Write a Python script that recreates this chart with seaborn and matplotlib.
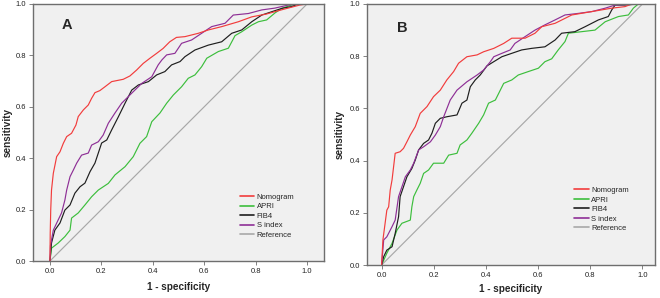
import pandas as pd
import seaborn as sns
from matplotlib import pyplot as plt
from matplotlib.lines import Line2D

# ---- panel A ----
a_nomogram_x = [0, 0.001, 0.003, 0.006, 0.013, 0.026, 0.039, 0.052, 0.065, 0.084, 0.101, 0.110, 0.130, 0.149,
                0.162, 0.175, 0.194, 0.214, 0.240, 0.285, 0.311, 0.337, 0.363, 0.389, 0.415, 0.440, 0.466,
                0.492, 0.525, 0.577, 0.616, 0.668, 0.733, 0.785, 0.842, 0.907, 0.972, 1.0]
a_nomogram_y = [0, 0.108, 0.200, 0.276, 0.341, 0.406, 0.425, 0.458, 0.484, 0.497, 0.529, 0.562, 0.588, 0.607,
                0.633, 0.655, 0.663, 0.678, 0.698, 0.707, 0.720, 0.743, 0.769, 0.789, 0.808, 0.827, 0.853,
                0.870, 0.873, 0.886, 0.899, 0.912, 0.931, 0.950, 0.961, 0.979, 0.996, 1.0]

a_apri_x = [0, 0.006, 0.032, 0.058, 0.078, 0.084, 0.110, 0.136, 0.162, 0.188, 0.227, 0.253, 0.292, 0.324,
            0.350, 0.376, 0.396, 0.428, 0.454, 0.480, 0.512, 0.538, 0.564, 0.590, 0.610, 0.655, 0.694,
            0.720, 0.746, 0.785, 0.811, 0.843, 0.875, 0.902, 0.940, 0.973, 1.0]
a_apri_y = [0, 0.050, 0.070, 0.095, 0.120, 0.167, 0.187, 0.218, 0.250, 0.276, 0.302, 0.335, 0.367, 0.406,
            0.458, 0.484, 0.542, 0.576, 0.614, 0.646, 0.678, 0.711, 0.724, 0.756, 0.789, 0.815, 0.828,
            0.877, 0.892, 0.918, 0.931, 0.938, 0.965, 0.983, 0.996, 1.0, 1.0]

a_fib4_x = [0, 0.006, 0.019, 0.039, 0.058, 0.078, 0.097, 0.117, 0.136, 0.156, 0.175, 0.188, 0.201, 0.221,
            0.240, 0.266, 0.292, 0.318, 0.344, 0.383, 0.415, 0.447, 0.473, 0.506, 0.525, 0.564, 0.616,
            0.668, 0.707, 0.746, 0.785, 0.824, 0.863, 0.902, 0.940, 0.966, 1.0]
a_fib4_y = [0, 0.070, 0.120, 0.148, 0.198, 0.218, 0.264, 0.289, 0.303, 0.348, 0.381, 0.420, 0.459, 0.471,
            0.510, 0.561, 0.614, 0.665, 0.685, 0.698, 0.724, 0.737, 0.763, 0.776, 0.795, 0.821, 0.840,
            0.853, 0.886, 0.899, 0.931, 0.957, 0.970, 0.983, 0.990, 1.0, 1.0]

a_sindex_x = [0, 0.002, 0.013, 0.032, 0.045, 0.058, 0.065, 0.078, 0.091, 0.104, 0.123, 0.149, 0.162, 0.188,
              0.207, 0.227, 0.253, 0.279, 0.318, 0.357, 0.396, 0.421, 0.435, 0.454, 0.486, 0.512, 0.551,
              0.590, 0.629, 0.681, 0.713, 0.772, 0.824, 0.875, 0.927, 0.965, 1.0]
a_sindex_y = [0, 0.060, 0.120, 0.160, 0.187, 0.237, 0.276, 0.328, 0.354, 0.381, 0.412, 0.420, 0.451, 0.464,
              0.490, 0.536, 0.576, 0.614, 0.653, 0.691, 0.717, 0.763, 0.782, 0.802, 0.808, 0.847, 0.860,
              0.886, 0.912, 0.925, 0.957, 0.963, 0.977, 0.984, 0.996, 1.0, 1.0]

# ---- panel B ----
b_nomogram_x = [0, 0.005, 0.010, 0.020, 0.027, 0.033, 0.040, 0.046, 0.052, 0.071, 0.084, 0.097, 0.110, 0.129,
                0.148, 0.174, 0.199, 0.225, 0.250, 0.276, 0.295, 0.327, 0.366, 0.391, 0.430, 0.468, 0.499,
                0.550, 0.588, 0.614, 0.665, 0.729, 0.806, 0.882, 0.933, 0.959, 1.0]
b_nomogram_y = [0, 0.096, 0.134, 0.210, 0.223, 0.287, 0.326, 0.377, 0.428, 0.434, 0.447, 0.472, 0.498, 0.530,
                0.581, 0.607, 0.645, 0.670, 0.709, 0.741, 0.773, 0.798, 0.805, 0.817, 0.830, 0.849, 0.869,
                0.869, 0.888, 0.913, 0.926, 0.958, 0.971, 0.984, 0.990, 1.0, 1.0]

b_apri_x = [0, 0.020, 0.040, 0.059, 0.078, 0.110, 0.116, 0.123, 0.135, 0.148, 0.161, 0.180, 0.199, 0.238,
            0.257, 0.289, 0.301, 0.327, 0.346, 0.372, 0.391, 0.410, 0.436, 0.455, 0.468, 0.499, 0.524,
            0.562, 0.601, 0.626, 0.652, 0.677, 0.703, 0.716, 0.767, 0.818, 0.857, 0.908, 0.946, 0.965,
            0.984, 1.0]
b_apri_y = [0, 0.045, 0.083, 0.134, 0.160, 0.172, 0.223, 0.262, 0.287, 0.313, 0.351, 0.364, 0.390, 0.390,
            0.421, 0.428, 0.460, 0.479, 0.505, 0.543, 0.575, 0.620, 0.632, 0.670, 0.696, 0.709, 0.728,
            0.741, 0.754, 0.779, 0.790, 0.824, 0.856, 0.888, 0.894, 0.900, 0.932, 0.952, 0.958, 0.984,
            1.0, 1.0]

b_fib4_x = [0, 0.008, 0.020, 0.040, 0.052, 0.065, 0.071, 0.084, 0.097, 0.116, 0.129, 0.142, 0.161, 0.180,
            0.193, 0.206, 0.225, 0.250, 0.289, 0.308, 0.327, 0.340, 0.359, 0.378, 0.404, 0.430, 0.461,
            0.499, 0.537, 0.575, 0.626, 0.665, 0.690, 0.741, 0.780, 0.831, 0.869, 0.882, 0.895, 0.933,
            0.984, 1.0]
b_fib4_y = [0, 0.032, 0.057, 0.070, 0.121, 0.185, 0.262, 0.300, 0.338, 0.370, 0.402, 0.441, 0.466, 0.479,
            0.505, 0.543, 0.562, 0.568, 0.575, 0.620, 0.632, 0.683, 0.709, 0.728, 0.763, 0.779, 0.798,
            0.811, 0.824, 0.830, 0.836, 0.862, 0.888, 0.894, 0.913, 0.939, 0.952, 0.977, 0.996, 0.996,
            1.0, 1.0]

b_sindex_x = [0, 0.008, 0.020, 0.040, 0.052, 0.065, 0.078, 0.091, 0.110, 0.123, 0.142, 0.161, 0.187, 0.206,
              0.225, 0.238, 0.263, 0.289, 0.327, 0.366, 0.391, 0.417, 0.430, 0.461, 0.493, 0.511, 0.550,
              0.588, 0.626, 0.665, 0.703, 0.754, 0.806, 0.857, 0.895, 0.984, 1.0]
b_sindex_y = [0, 0.096, 0.108, 0.147, 0.172, 0.262, 0.300, 0.338, 0.364, 0.390, 0.441, 0.453, 0.472, 0.498,
              0.530, 0.568, 0.632, 0.670, 0.702, 0.728, 0.747, 0.779, 0.798, 0.811, 0.824, 0.849, 0.875,
              0.900, 0.920, 0.939, 0.958, 0.964, 0.971, 0.984, 0.996, 1.0, 1.0]

reference_x = [0, 1]
reference_y = [0, 1]

curve_names = ["Nomogram", "APRI", "FIB4", "S index", "Reference"]
curve_colors = {
    "Nomogram": "#f23c3c",
    "APRI": "#3cbe3c",
    "FIB4": "#1e1e1e",
    "S index": "#8e2f96",
    "Reference": "#a8a8a8",
}


def make_frame(series):
    rows = []
    for name, xs, ys in series:
        for i, (x, y) in enumerate(zip(xs, ys)):
            rows.append({"curve": name, "order": i, "fpr": x, "tpr": y})
    return pd.DataFrame(rows)


df_a = make_frame([
    ("Reference", reference_x, reference_y),
    ("APRI", a_apri_x, a_apri_y),
    ("FIB4", a_fib4_x, a_fib4_y),
    ("S index", a_sindex_x, a_sindex_y),
    ("Nomogram", a_nomogram_x, a_nomogram_y),
])
df_b = make_frame([
    ("Reference", reference_x, reference_y),
    ("APRI", b_apri_x, b_apri_y),
    ("FIB4", b_fib4_x, b_fib4_y),
    ("S index", b_sindex_x, b_sindex_y),
    ("Nomogram", b_nomogram_x, b_nomogram_y),
])

sns.set_theme(style="ticks", rc={
    "axes.facecolor": "#f0f0f0",
    "axes.edgecolor": "#6e6e6e",
    "axes.linewidth": 1.0,
    "xtick.color": "#6e6e6e",
    "ytick.color": "#6e6e6e",
    "xtick.labelcolor": "#222222",
    "ytick.labelcolor": "#222222",
})
plt.rcParams["font.family"] = ["Liberation Sans", "DejaVu Sans"]

fig = plt.figure(figsize=(6.6, 2.98), dpi=100)
ax_a = fig.add_axes([33 / 660, 1 - 261 / 298, 291 / 660, 257 / 298])
ax_b = fig.add_axes([367 / 660, 1 - 265 / 298, 288 / 660, 261 / 298])

panels = [
    # ax, data, letter, xlim, letter pos, legend anchor, label coords
    (ax_a, df_a, "A", (-0.066, 1.066), (0.047, 0.918), (0.711, 0.262), (-0.069, -0.08)),
    (ax_b, df_b, "B", (-0.056, 1.048), (0.058, 0.907), (0.719, 0.300), (-0.076, -0.073)),
]

for ax, df, letter, xlim, letter_pos, leg_pos, label_pos in panels:
    sns.lineplot(
        data=df,
        x="fpr",
        y="tpr",
        hue="curve",
        units="curve",
        palette=curve_colors,
        estimator=None,
        sort=False,
        linewidth=0.85,
        legend=False,
        ax=ax,
    )
    ax.set_xlim(*xlim)
    ax.set_ylim(0, 1)
    ax.set_xticks([0, 0.2, 0.4, 0.6, 0.8, 1.0])
    ax.set_yticks([0, 0.2, 0.4, 0.6, 0.8, 1.0])
    ax.set_xticklabels(["0.0", "0.2", "0.4", "0.6", "0.8", "1.0"])
    ax.set_yticklabels(["0.0", "0.2", "0.4", "0.6", "0.8", "1.0"])
    ax.tick_params(axis="both", labelsize=5.5, length=3, width=0.6, pad=2)
    for spine in ax.spines.values():
        spine.set_visible(True)

    ax.set_xlabel("1 - specificity", fontsize=7.2, fontweight="bold")
    ax.set_ylabel("sensitivity", fontsize=7.2, fontweight="bold")
    ax.yaxis.set_label_coords(label_pos[0], 0.5)
    ax.xaxis.set_label_coords(0.5, label_pos[1])

    ax.text(letter_pos[0], letter_pos[1], letter, fontsize=10.5, fontweight="bold",
            ha="left", va="center", transform=ax.transData)

    handles = [Line2D([0], [0], color=curve_colors[n], lw=1.2) for n in curve_names]
    ax.legend(
        handles,
        curve_names,
        loc="upper left",
        bbox_to_anchor=leg_pos,
        frameon=False,
        fontsize=5.5,
        labelspacing=0.28,
        handlelength=1.9,
        handletextpad=0.3,
        borderpad=0,
        borderaxespad=0,
    )

fig.savefig("out.png", dpi=100)
